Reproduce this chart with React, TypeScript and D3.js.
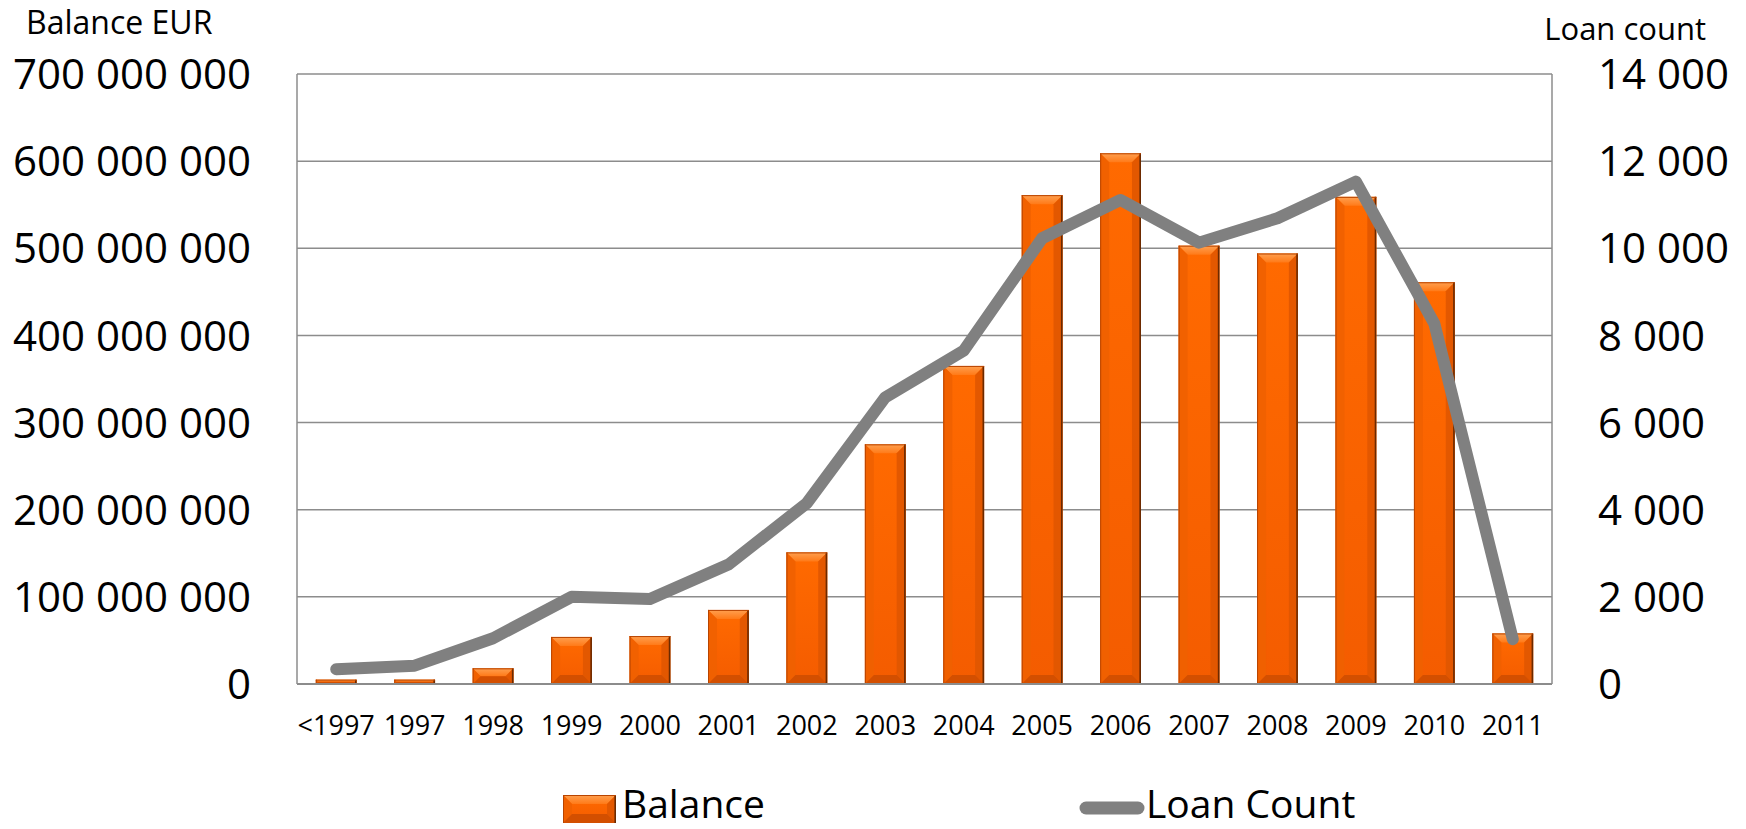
import React from "react";
import * as d3 from "d3";

const categories = ["<1997", "1997", "1998", "1999", "2000", "2001", "2002", "2003", "2004", "2005", "2006", "2007", "2008", "2009", "2010", "2011"];
const balance = [5e6, 5e6, 18e6, 54e6, 55e6, 85e6, 151e6, 275e6, 365e6, 561e6, 609e6, 503e6, 494e6, 559e6, 461e6, 58e6];
const loanCount = [340, 420, 1050, 2000, 1950, 2740, 4150, 6580, 7650, 10230, 11110, 10130, 10690, 11530, 8270, 1030];
const leftTicks = [0, 100e6, 200e6, 300e6, 400e6, 500e6, 600e6, 700e6];
const rightTicks = [0, 2000, 4000, 6000, 8000, 10000, 12000, 14000];

const W = 1746;
const H = 829;
const M = { left: 297, right: 1552, top: 74, bottom: 684 };
const FONT = "'Open Sans', sans-serif";

const fmt = (v: number) => {
  const s = Math.round(v).toString();
  return s.replace(/\B(?=(\d{3})+(?!\d))/g, " ");
};

function BevelBar({ x, y, w, h }: { x: number; y: number; w: number; h: number }) {
  const b = Math.min(9, h / 2, w / 2);
  const x2 = x + w;
  const y2 = y + h;
  return (
    <g>
      <rect x={x} y={y} width={w} height={h} fill="url(#barMain)" />
      <polygon points={`${x},${y} ${x2},${y} ${x2 - b},${y + b} ${x + b},${y + b}`} fill="url(#barTop)" />
      <polygon points={`${x},${y} ${x + b},${y + b} ${x + b},${y2 - b} ${x},${y2}`} fill="#F06000" opacity={0.9} />
      <polygon points={`${x2},${y} ${x2 - b},${y + b} ${x2 - b},${y2 - b} ${x2},${y2}`} fill="#E05600" opacity={0.9} />
      <polygon points={`${x},${y2} ${x + b},${y2 - b} ${x2 - b},${y2 - b} ${x2},${y2}`} fill="#CC4C00" opacity={0.85} />
      <line x1={x2 - 0.8} y1={y} x2={x2 - 0.8} y2={y2} stroke="#6B2A00" strokeWidth={1.6} />
      <line x1={x} y1={y + 0.5} x2={x2} y2={y + 0.5} stroke="#B84400" strokeWidth={1} />
      <line x1={x + 0.5} y1={y} x2={x + 0.5} y2={y2} stroke="#B84400" strokeWidth={1} />
    </g>
  );
}

export default function App() {
  const x = d3.scaleBand<string>().domain(categories).range([M.left, M.right]).paddingInner(0.48).paddingOuter(0.24);
  const xc = d3.scalePoint<string>().domain(categories).range([M.left, M.right]).padding(0.5);
  const yL = d3.scaleLinear().domain([0, 700e6]).range([M.bottom, M.top]);
  const yR = d3.scaleLinear().domain([0, 14000]).range([M.bottom, M.top]);

  const linePath = d3
    .line<number>()
    .x((_, i) => xc(categories[i]) as number)
    .y((d) => yR(d))(loanCount) as string;

  return (
    <svg width={W} height={H} style={{ position: "absolute", left: 0, top: 0, background: "#fff" }} fontFamily={FONT}>
      <defs>
        <linearGradient id="barMain" x1="0" y1="0" x2="0" y2="1">
          <stop offset="0" stopColor="#FF6A00" />
          <stop offset="1" stopColor="#F45C00" />
        </linearGradient>
        <linearGradient id="barTop" x1="0" y1="0" x2="0" y2="1">
          <stop offset="0" stopColor="#FFA050" />
          <stop offset="1" stopColor="#FF7A18" />
        </linearGradient>
      </defs>

      {/* gridlines */}
      {leftTicks.map((t) => (
        <line key={t} x1={M.left} x2={M.right} y1={yL(t)} y2={yL(t)} stroke="#8C8C8C" strokeWidth={1.5} />
      ))}
      <line x1={M.left} x2={M.left} y1={M.top} y2={M.bottom} stroke="#8C8C8C" strokeWidth={1.5} />
      <line x1={M.right} x2={M.right} y1={M.top} y2={M.bottom} stroke="#8C8C8C" strokeWidth={1.5} />

      {/* bars */}
      {balance.map((v, i) => {
        const bx = x(categories[i]) as number;
        const by = yL(v);
        return <BevelBar key={i} x={bx} y={by} w={x.bandwidth()} h={M.bottom - by} />;
      })}

      {/* bottom axis line */}
      <line x1={M.left} x2={M.right} y1={M.bottom} y2={M.bottom} stroke="#8C8C8C" strokeWidth={2} />

      {/* line */}
      <path d={linePath} fill="none" stroke="#808080" strokeWidth={12} strokeLinecap="round" strokeLinejoin="round" />

      {/* left ticks */}
      {leftTicks.map((t) => (
        <text key={t} x={251} y={yL(t)} dy="0.36em" textAnchor="end" fontSize={42} fill="#000">
          {fmt(t)}
        </text>
      ))}
      {/* right ticks */}
      {rightTicks.map((t) => (
        <text key={t} x={1598} y={yR(t)} dy="0.36em" textAnchor="start" fontSize={42} fill="#000">
          {fmt(t)}
        </text>
      ))}

      {/* x labels */}
      {categories.map((c) => (
        <text key={c} x={xc(c) as number} y={735} textAnchor="middle" fontSize={27} fill="#000">
          {c}
        </text>
      ))}

      {/* axis titles */}
      <text x={26} y={34} fontSize={32} fill="#000">Balance EUR</text>
      <text x={1706} y={40} textAnchor="end" fontSize={31} fill="#000">Loan count</text>

      {/* legend */}
      <BevelBar x={563} y={795} w={53} h={28} />
      <text x={622} y={818} fontSize={39} fill="#000">Balance</text>
      <line x1={1086} x2={1138} y1={808} y2={808} stroke="#808080" strokeWidth={13} strokeLinecap="round" />
      <text x={1146} y={818} fontSize={39} fill="#000">Loan Count</text>
    </svg>
  );
}
